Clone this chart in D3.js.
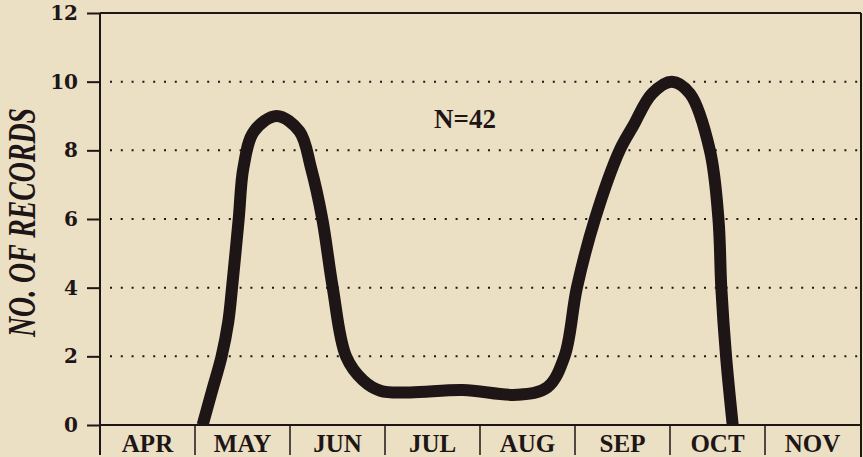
<!DOCTYPE html>
<html>
<head>
<meta charset="utf-8">
<script src="https://cdn.jsdelivr.net/npm/d3@7"></script>
<style>
  html, body { margin: 0; padding: 0; background: #ece0c4; }
  svg { display: block; }
</style>
</head>
<body>
<svg id="chart"></svg>
<script>
// months along the bottom
var months = ['APR', 'MAY', 'JUN', 'JUL', 'AUG', 'SEP', 'OCT', 'NOV'];
var yTicks = [0, 2, 4, 6, 8, 10, 12];
var gridValues = [2, 4, 6, 8, 10];

// curve: position in months from 1 April, number of records
var curveMonth = [1.08, 1.18, 1.28, 1.35, 1.39, 1.46, 1.51, 1.62, 1.86, 2.10, 2.22, 2.34,
                  2.45, 2.59, 2.77, 2.95, 3.26, 3.82, 4.39, 4.71, 4.89, 5.02, 5.21, 5.47, 5.61,
                  5.81, 6.02, 6.21, 6.42, 6.51, 6.54, 6.59, 6.66];
var curveCount = [0, 1, 2, 3, 4, 6, 7.5, 8.55, 9, 8.55, 7.5, 6,
                  4, 2, 1.3, 1.0, 0.95, 1.02, 0.88, 1.1, 2, 4, 6, 8, 8.7,
                  9.65, 10, 9.65, 8, 6, 4, 2, 0];
var totalRecords = 42;

var ink = '#1e1616';
var width = 863, height = 457;
var plotLeft = 100, plotRight = 861, plotTop = 13, plotBottom = 425;

var svg = d3.select('#chart')
    .attr('width', width)
    .attr('height', height);

svg.append('rect')
    .attr('width', width)
    .attr('height', height)
    .attr('fill', '#ece0c4');

var xMonth = d3.scaleLinear().domain([0, months.length]).range([plotLeft, plotRight - 1]);
var xBand = d3.scaleBand().domain(months).range([plotLeft, plotRight - 1]);
var y = d3.scaleLinear().domain([0, 12]).range([plotBottom, plotTop]);

// dotted grid lines
svg.append('g')
    .selectAll('line')
    .data(gridValues)
    .join('line')
    .attr('x1', 110)
    .attr('x2', plotRight)
    .attr('y1', d => y(d))
    .attr('y2', d => y(d))
    .attr('stroke', ink)
    .attr('stroke-width', 2)
    .attr('stroke-dasharray', '2,8.8');

// frame: top and right
svg.append('line')
    .attr('x1', plotLeft).attr('x2', plotRight)
    .attr('y1', plotTop).attr('y2', plotTop)
    .attr('stroke', ink).attr('stroke-width', 2);
svg.append('line')
    .attr('x1', plotRight).attr('x2', plotRight)
    .attr('y1', plotTop).attr('y2', height)
    .attr('stroke', ink).attr('stroke-width', 2);

// y axis
var yAxis = svg.append('g')
    .attr('transform', `translate(${plotLeft},0)`)
    .call(d3.axisLeft(y).tickValues(yTicks).tickSize(13).tickPadding(9));
yAxis.select('.domain').remove();
yAxis.selectAll('.tick line').attr('stroke', ink).attr('stroke-width', 2);
yAxis.selectAll('.tick text')
    .attr('fill', ink)
    .style('font-family', '"DejaVu Serif", serif')
    .style('font-weight', 'bold')
    .style('font-size', '20px');

svg.append('line')
    .attr('x1', plotLeft).attr('x2', plotLeft)
    .attr('y1', plotTop).attr('y2', height - 2)
    .attr('stroke', ink).attr('stroke-width', 2);

// x axis with month cells
svg.append('line')
    .attr('x1', plotLeft).attr('x2', plotRight)
    .attr('y1', plotBottom).attr('y2', plotBottom)
    .attr('stroke', ink).attr('stroke-width', 2);

var xAxis = svg.append('g')
    .attr('transform', `translate(0,${plotBottom})`)
    .call(d3.axisBottom(xBand).tickSize(0));
xAxis.select('.domain').remove();
xAxis.selectAll('.tick text')
    .attr('y', 27)
    .attr('dy', 0)
    .attr('fill', ink)
    .style('font-family', '"Liberation Serif", "Times New Roman", serif')
    .style('font-weight', 'bold')
    .style('font-size', '25px');

svg.append('g')
    .selectAll('line')
    .data(d3.range(1, months.length))
    .join('line')
    .attr('x1', d => xMonth(d))
    .attr('x2', d => xMonth(d))
    .attr('y1', plotBottom)
    .attr('y2', height - 2)
    .attr('stroke', ink)
    .attr('stroke-width', 1.5);

// y label
svg.append('text')
    .attr('transform', `translate(35,${(108 + 337) / 2}) rotate(-90)`)
    .attr('text-anchor', 'middle')
    .attr('textLength', 229)
    .attr('lengthAdjust', 'spacingAndGlyphs')
    .attr('fill', ink)
    .style('font-family', '"Liberation Serif", "Times New Roman", serif')
    .style('font-style', 'italic')
    .style('font-weight', 'bold')
    .style('font-size', '40px')
    .text('NO. OF RECORDS');

// N label
svg.append('text')
    .attr('x', 465)
    .attr('y', 128)
    .attr('text-anchor', 'middle')
    .attr('fill', ink)
    .style('font-family', '"Liberation Serif", "Times New Roman", serif')
    .style('font-weight', 'bold')
    .style('font-size', '27px')
    .text('N=' + totalRecords);

// the curve
svg.append('clipPath')
    .attr('id', 'plotClip')
    .append('rect')
    .attr('x', plotLeft)
    .attr('y', 0)
    .attr('width', plotRight - plotLeft)
    .attr('height', plotBottom);

var line = d3.line()
    .x(d => xMonth(d[0]))
    .y(d => y(d[1]))
    .curve(d3.curveCatmullRom.alpha(0.5));

svg.append('path')
    .datum(d3.zip(curveMonth, curveCount))
    .attr('clip-path', 'url(#plotClip)')
    .attr('d', line)
    .attr('fill', 'none')
    .attr('stroke', ink)
    .attr('stroke-width', 12)
    .attr('stroke-linejoin', 'round');
</script>
</body>
</html>
